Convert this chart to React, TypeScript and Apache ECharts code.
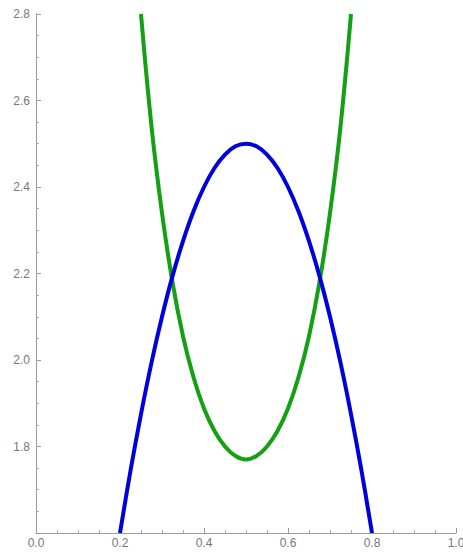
import React, { useEffect, useRef } from "react";
import * as echarts from "echarts";

const blueX = [0.2, 0.225, 0.25, 0.275, 0.3, 0.325, 0.35, 0.375, 0.4, 0.425, 0.45, 0.475, 0.5, 0.525, 0.55, 0.575, 0.6, 0.625, 0.65, 0.675, 0.7, 0.725, 0.75, 0.775, 0.8];
const blueY = [1.6, 1.744, 1.875, 1.994, 2.1, 2.194, 2.275, 2.344, 2.4, 2.444, 2.475, 2.494, 2.5, 2.494, 2.475, 2.444, 2.4, 2.344, 2.275, 2.194, 2.1, 1.994, 1.875, 1.744, 1.6];

const greenX = [0.25, 0.275, 0.3, 0.325, 0.35, 0.375, 0.4, 0.425, 0.45, 0.475, 0.5, 0.525, 0.55, 0.575, 0.6, 0.625, 0.65, 0.675, 0.7, 0.725, 0.75];
const greenY = [2.8, 2.54, 2.34, 2.18, 2.055, 1.96, 1.888, 1.836, 1.8, 1.778, 1.77, 1.778, 1.8, 1.836, 1.888, 1.96, 2.055, 2.18, 2.34, 2.54, 2.8];

const xTicks = [0, 0.2, 0.4, 0.6, 0.8, 1.0];
const yTicks = [1.6, 1.8, 2.0, 2.2, 2.4, 2.6, 2.8];

export default function App() {
  const ref = useRef<HTMLDivElement>(null);
  useEffect(() => {
    if (!ref.current) return;
    const chart = echarts.init(ref.current, undefined, { renderer: "svg" });
    const axisCommon = {
      axisLine: { show: true, onZero: false, lineStyle: { color: "#999", width: 1 } },
      axisTick: { show: true, inside: true, length: 5, lineStyle: { color: "#999" } },
      minorTick: { show: true, splitNumber: 4, length: 3, lineStyle: { color: "#aaa" } },
      splitLine: { show: false },
      minorSplitLine: { show: false },
    };
    chart.setOption({
      animation: false,
      backgroundColor: "#fff",
      grid: {
        left: 36,
        right: 7,
        top: 14,
        bottom: 21,
        containLabel: false,
        outerBoundsMode: "none",
      },
      xAxis: {
        type: "value",
        min: xTicks[0],
        max: xTicks[xTicks.length - 1],
        interval: 0.2,
        ...axisCommon,
        axisLabel: {
          color: "#777",
          fontSize: 12,
          fontFamily: "Liberation Sans, Arial, sans-serif",
          margin: 4,
          alignMinLabel: "center",
          alignMaxLabel: "center",
          formatter: (v: number) => v.toFixed(1),
        },
      },
      yAxis: {
        type: "value",
        min: yTicks[0],
        max: yTicks[yTicks.length - 1],
        interval: 0.2,
        ...axisCommon,
        axisLabel: {
          color: "#777",
          fontSize: 12,
          fontFamily: "Liberation Sans, Arial, sans-serif",
          margin: 6,
          formatter: (v: number) => (Math.abs(v - yTicks[0]) < 1e-9 ? "" : v.toFixed(1)),
        },
      },
      series: [
        {
          type: "line",
          data: greenX.map((x, i) => [x, greenY[i]]),
          smooth: 0.4,
          showSymbol: false,
          clip: true,
          lineStyle: { color: "#13a013", width: 4 },
        },
        {
          type: "line",
          data: blueX.map((x, i) => [x, blueY[i]]),
          smooth: 0.4,
          showSymbol: false,
          clip: true,
          lineStyle: { color: "#0000dd", width: 4 },
        },
      ],
    });
    return () => chart.dispose();
  }, []);
  return (
    <div
      ref={ref}
      style={{ position: "fixed", left: 0, top: 0, width: 463, height: 554 }}
    />
  );
}
